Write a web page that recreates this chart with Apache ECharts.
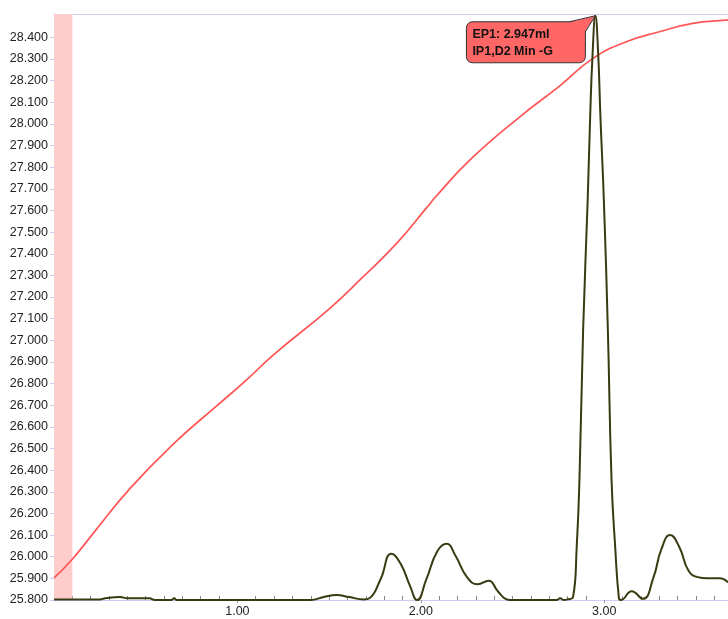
<!DOCTYPE html>
<html>
<head>
<meta charset="utf-8">
<style>
html,body{margin:0;padding:0;background:#fff;overflow:hidden;}
#c{width:728px;height:619px;}
</style>
<script src="https://cdn.jsdelivr.net/npm/echarts@6/dist/echarts.min.js"></script>
</head>
<body>
<div id="c"></div>
<script>
// Titration curve (red): [volume ml, value]
const curveX = [0.00,0.096,0.214,0.415,0.669,0.887,1.050,1.195,1.504,1.686,1.868,2.031,2.086,2.267,2.540,2.758,2.939,3.121,3.301,3.483,3.665,3.675];
const curveY = [25.902,25.985,26.108,26.316,26.535,26.697,26.817,26.932,27.148,27.294,27.448,27.612,27.668,27.833,28.033,28.176,28.303,28.380,28.426,28.465,28.480,28.481];

// Derivative curve (dark), relative units 0..100 on hidden axis
const derivX = [0.00,0.25,0.28,0.36,0.40,0.52,0.55,0.64,0.655,0.67,1.00,1.40,1.47,1.54,1.61,1.69,1.72,1.78,1.84,1.89,1.94,1.98,2.03,2.09,2.14,2.19,2.25,2.31,2.37,2.42,2.47,2.50,2.74,2.76,2.78,2.80,2.83,2.85,2.865,2.885,2.91,2.923,2.937,2.952,2.966,2.98,2.998,3.02,3.04,3.06,3.08,3.09,3.15,3.21,3.27,3.31,3.36,3.41,3.46,3.51,3.56,3.63,3.675];
const derivY = [0.1,0.1,0.3,0.5,0.3,0.3,0,0,0.3,0,0,0,0.5,0.85,0.5,0.1,0.3,3.5,7.9,6.2,2.5,0,3.5,8.3,9.6,7.5,4,2.7,3.3,1.5,0.1,0,0,0.3,0,0.1,0.5,9,20.5,46,68.3,82,93.4,99.7,94,82,68.3,46,20.5,9,0.35,0,1.5,0.2,4,8.5,11.1,9,5,3.9,3.7,3.7,3.0];

const yTickLabels = ['25.800','25.900','26.000','26.100','26.200','26.300','26.400','26.500','26.600','26.700','26.800','26.900','27.000','27.100','27.200','27.300','27.400','27.500','27.600','27.700','27.800','27.900','28.000','28.100','28.200','28.300','28.400'];
const xTickLabels = ['1.00','2.00','3.00'];
const xMinorTicks = [0.1,0.2,0.3,0.4,0.5,0.6,0.7,0.8,0.9,1.1,1.2,1.3,1.4,1.5,1.6,1.7,1.8,1.9,2.1,2.2,2.3,2.4,2.5,2.6,2.7,2.8,2.9,3.1,3.2,3.3,3.4,3.5,3.6];
const annotLines = ['EP1: 2.947ml', 'IP1,D2 Min -G'];
const bandRange = [0, 0.1];

const X_MIN = 0, X_MAX = 3.675, Y_MIN = 25.8, Y_MAX = 28.508;
const yVals = yTickLabels.map(Number);
const xMajor = xTickLabels.map(Number);

const chart = echarts.init(document.getElementById('c'), null, {renderer:'canvas'});
const font = "'Liberation Sans', Arial, sans-serif";
const axisCol = '#ccccf4';

chart.setOption({
  animation:false,
  grid:{left:54, right:0, top:14, bottom:19},
  xAxis:[
    {type:'value', min:X_MIN, max:X_MAX, position:'bottom',
     axisLine:{show:true, lineStyle:{color:axisCol, width:1}},
     axisTick:{show:true, inside:true, length:4, customValues:xMinorTicks, lineStyle:{color:'#888'}},
     axisLabel:{show:true, customValues:xMajor, formatter:v=>v.toFixed(2), color:'#222', fontSize:12.5, fontFamily:font, margin:5},
     splitLine:{show:false}},
    {type:'value', min:X_MIN, max:X_MAX, position:'bottom', offset:0,
     axisLine:{show:false},
     axisTick:{show:true, inside:false, length:3, customValues:xMajor, lineStyle:{color:'#999'}},
     axisLabel:{show:false}, splitLine:{show:false}},
    {type:'value', min:X_MIN, max:X_MAX, position:'top',
     axisLine:{show:true, lineStyle:{color:axisCol, width:1}},
     axisTick:{show:false}, axisLabel:{show:false}, splitLine:{show:false}}
  ],
  yAxis:[
    {type:'value', min:Y_MIN, max:Y_MAX,
     axisLine:{show:true, lineStyle:{color:axisCol}},
     axisTick:{show:true, length:4, customValues:yVals, lineStyle:{color:axisCol}},
     axisLabel:{show:true, customValues:yVals, formatter:v=>v.toFixed(3), color:'#222', fontSize:12.5, fontFamily:font, margin:6},
     splitLine:{show:false}},
    {type:'value', min:0, max:100, show:false}
  ],
  series:[
    {type:'line', name:'curve', xAxisIndex:0, yAxisIndex:0,
     data:curveX.map((x,i)=>[x,curveY[i]]), showSymbol:false, smooth:0.5,
     lineStyle:{color:'#ff5555', width:1.7}, z:3,
     markArea:{silent:true, itemStyle:{color:'#ffcccc', opacity:1},
       data:[[{xAxis:bandRange[0]},{xAxis:bandRange[1]}]]}},
    {type:'line', name:'deriv', xAxisIndex:0, yAxisIndex:1,
     data:derivX.map((x,i)=>[x,derivY[i]]), showSymbol:false, smooth:0.5,
     lineStyle:{color:'#3a3a12', width:2}, z:4}
  ]
});

// annotation box anchored at endpoint peak
const peakIdx = derivY.indexOf(Math.max(...derivY));
const p = chart.convertToPixel({xAxisIndex:0, yAxisIndex:1}, [derivX[peakIdx], derivY[peakIdx]]);
const px = p[0], py = p[1];
chart.setOption({graphic:[
  {type:'rect', shape:{x:px-129, y:py+6, width:119, height:41, r:6}, style:{fill:'#ff6666', stroke:'#333', lineWidth:1}, z:100},
  {type:'polygon', shape:{points:[[px-26,py+6.5],[px,py],[px-10.5,py+16],[px-14,py+14]]}, style:{fill:'#ff6666', stroke:null}, z:101},
  {type:'polyline', shape:{points:[[px-26,py+6],[px,py],[px-10,py+16]]}, style:{stroke:'#333', lineWidth:1, fill:null}, z:102},
  {type:'text', x:px-123, y:py+12, style:{text:annotLines[0], fill:'#111', font:'bold 12.5px '+font}, z:103},
  {type:'text', x:px-123, y:py+29, style:{text:annotLines[1], fill:'#111', font:'bold 12.5px '+font}, z:103}
]});
</script>
</body>
</html>
